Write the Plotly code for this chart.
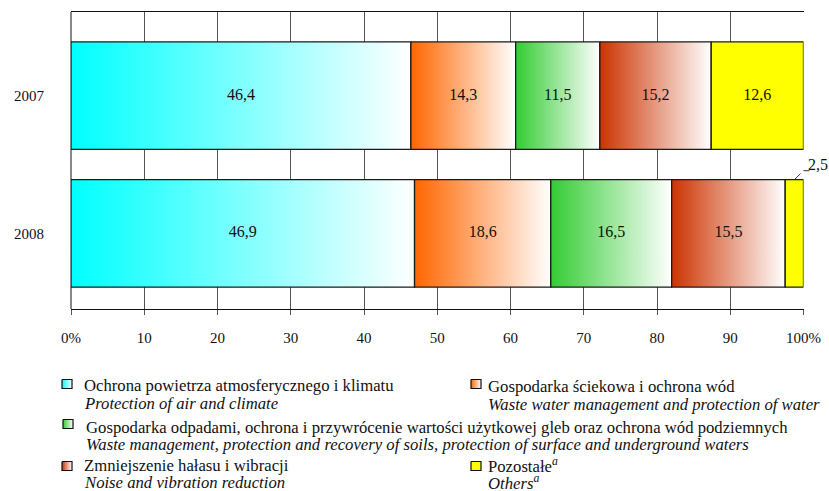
import plotly.graph_objects as go

# --- data -----------------------------------------------------------------
years = ["2007", "2008"]
values_2007 = [46.4, 14.3, 11.5, 15.2, 12.6]
values_2008 = [46.9, 18.6, 16.5, 15.5, 2.5]

names_pl = [
    "Ochrona powietrza atmosferycznego i klimatu",
    "Gospodarka ściekowa i ochrona wód",
    "Gospodarka odpadami, ochrona i przywrócenie wartości użytkowej gleb oraz ochrona wód podziemnych",
    "Zmniejszenie hałasu i wibracji",
    "Pozostałe<sup><i>a</i></sup>",
]
names_en = [
    "Protection of air and climate",
    "Waste water management and protection of water",
    "Waste management, protection and recovery of soils, protection of surface and underground waters",
    "Noise and vibration reduction",
    "Others<sup><i>a</i></sup>",
]

x_ticks = [0, 10, 20, 30, 40, 50, 60, 70, 80, 90, 100]
x_tick_labels = ["0%", "10", "20", "30", "40", "50", "60", "70", "80", "90", "100%"]

# --- style ----------------------------------------------------------------
colors = ["#00FFFF", "#FF6600", "#33CC33", "#CC3300", "#FFFF00"]
use_gradient = [True, True, True, True, False]
FONT = "'Liberation Serif', 'Times New Roman', Times, serif"
W, H = 829, 491
BAR_H = 0.78          # bar thickness in category units
EDGE = "#1a1a1a"
TXT = "#111111"
LEGEND_SIZE = 16.7

rows = [values_2007, values_2008]


def fill_style(k):
    if use_gradient[k]:
        return dict(fillgradient=dict(type="horizontal",
                                      colorscale=[[0, colors[k]], [1, "#FFFFFF"]]))
    return dict(fillcolor=colors[k])


fig = go.Figure()

# stacked bar segments (one polygon per segment so each has its own gradient)
for i, vals in enumerate(rows):
    start = 0.0
    for k, v in enumerate(vals):
        x0, x1 = start, start + v
        y0, y1 = i - BAR_H / 2, i + BAR_H / 2
        fig.add_trace(go.Scatter(
            x=[x0, x1, x1, x0, x0], y=[y0, y0, y1, y1, y0],
            mode="lines", fill="toself", line=dict(color=EDGE, width=1.3),
            hoverinfo="skip", showlegend=False, **fill_style(k),
        ))
        start = x1

# value labels inside the segments (small ones are labelled outside)
for i, vals in enumerate(rows):
    start = 0.0
    for k, v in enumerate(vals):
        mid = start + v / 2
        label = f"{v:.1f}".replace(".", ",")
        if v >= 5:
            fig.add_trace(go.Scatter(
                x=[mid], y=[i], mode="text", text=[label],
                textfont=dict(family=FONT, size=16, color=TXT),
                hoverinfo="skip", showlegend=False,
            ))
        else:
            top = i - BAR_H / 2
            bend = top - 0.065
            fig.add_annotation(x=mid, y=top, ax=start + v, ay=bend,
                               axref="x", ayref="y", text=" ", showarrow=True,
                               arrowhead=0, arrowwidth=1, arrowcolor="#333333")
            fig.add_annotation(x=start + v, y=bend, ax=9, ay=0, text=" ",
                               showarrow=True, arrowhead=0, arrowwidth=1,
                               arrowcolor="#333333")
            fig.add_annotation(x=start + v, y=bend, text=label, showarrow=False,
                               xanchor="left", yanchor="bottom", xshift=2, yshift=-4,
                               font=dict(family=FONT, size=16, color=TXT))
        start += v

# --- legend (drawn on a pixel-space overlay axis) --------------------------
legend_items = [
    # swatch x, swatch y, text x, pl y, en y
    (62, 384, 82, 385, 403),
    (471, 384, 486, 386, 404),
    (63, 424, 84, 427, 444),
    (62, 466, 82, 465, 482),
    (471, 466, 486, 465, 482),
]
for k, (sx, sy, tx, ty1, ty2) in enumerate(legend_items):
    fig.add_trace(go.Scatter(
        x=[sx, sx + 10, sx + 10, sx, sx], y=[sy - 4.5, sy - 4.5, sy + 4.5, sy + 4.5, sy - 4.5],
        xaxis="x2", yaxis="y2", mode="lines", fill="toself",
        line=dict(color="#111111", width=1.2), hoverinfo="skip", showlegend=False,
        **fill_style(k),
    ))
    fig.add_annotation(x=tx / W, y=1 - ty1 / H, xref="paper", yref="paper",
                       text=names_pl[k], showarrow=False, xanchor="left", yanchor="middle",
                       font=dict(family=FONT, size=LEGEND_SIZE, color=TXT))
    fig.add_annotation(x=tx / W, y=1 - ty2 / H, xref="paper", yref="paper",
                       text=f"<i>{names_en[k]}</i>", showarrow=False, xanchor="left",
                       yanchor="middle", font=dict(family=FONT, size=LEGEND_SIZE, color=TXT))

# --- axes / layout ----------------------------------------------------------
px_left, px_right, px_top, px_bot = 71, 803.5, 12, 309
unit = 137.5  # pixels per category step
y_range = [1 + (px_bot - 233.5) / unit, -(95.5 - px_top) / unit]

fig.update_layout(
    template="none",
    width=W, height=H,
    margin=dict(l=0, r=0, t=0, b=0, pad=0, autoexpand=False),
    paper_bgcolor="white", plot_bgcolor="rgba(0,0,0,0)",
    showlegend=False,
    font=dict(family=FONT, color=TXT),
    xaxis=dict(
        domain=[px_left / W, px_right / W], range=[0, 100], automargin=False,
        tickvals=x_ticks, ticktext=x_tick_labels,
        showgrid=True, gridcolor="#555555", gridwidth=1,
        zeroline=True, zerolinecolor="#888888", zerolinewidth=2,
        showline=True, linecolor="#111111", linewidth=1, mirror=True,
        ticks="outside", ticklen=5, tickcolor="#555555", tickwidth=1,
        ticklabelstandoff=10,
        tickfont=dict(family=FONT, size=15, color=TXT),
        fixedrange=True,
    ),
    yaxis=dict(
        domain=[1 - px_bot / H, 1 - px_top / H], range=y_range, automargin=False,
        tickvals=[0, 1], ticktext=years,
        showgrid=False, zeroline=False, showline=False, ticks="",
        ticklabelstandoff=26,
        tickfont=dict(family=FONT, size=15, color=TXT),
        fixedrange=True,
    ),
    xaxis2=dict(domain=[0, 1], range=[0, W], anchor="y2", visible=False,
                fixedrange=True, automargin=False),
    yaxis2=dict(domain=[0, 1], range=[H, 0], anchor="x2", visible=False,
                fixedrange=True, automargin=False),
)

fig.write_html("out.html")
